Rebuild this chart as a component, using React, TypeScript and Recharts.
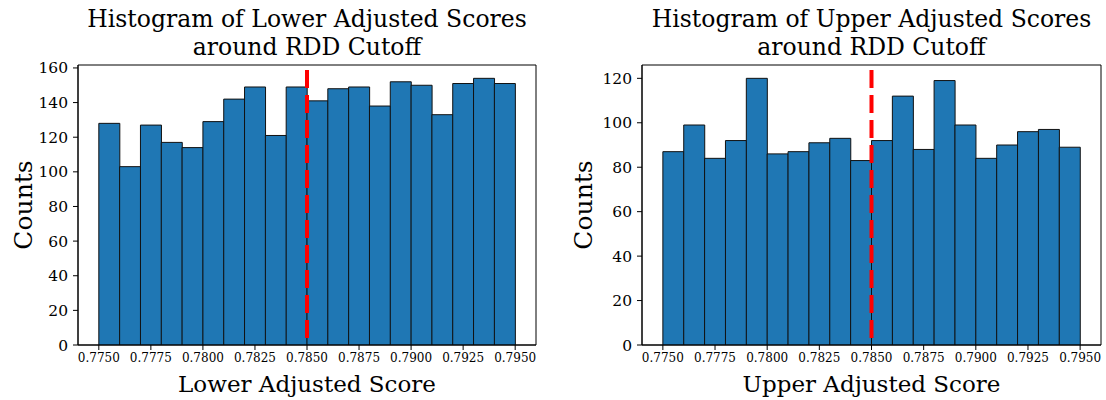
import React from 'react';
import { Bar, BarChart, XAxis, YAxis, ReferenceLine, ReferenceArea, Label } from 'recharts';

// bin centres of the 20 histogram bins (width 0.001)
const binCenters = [
  0.7755, 0.7765, 0.7775, 0.7785, 0.7795, 0.7805, 0.7815, 0.7825, 0.7835, 0.7845,
  0.7855, 0.7865, 0.7875, 0.7885, 0.7895, 0.7905, 0.7915, 0.7925, 0.7935, 0.7945,
];
const lowerCounts = [128, 103, 127, 117, 114, 129, 142, 149, 121, 149, 141, 148, 149, 138, 152, 150, 133, 151, 154, 151];
const upperCounts = [87, 99, 84, 92, 120, 86, 87, 91, 93, 83, 92, 112, 88, 119, 99, 84, 90, 96, 97, 89];
const xTicks = [0.775, 0.7775, 0.78, 0.7825, 0.785, 0.7875, 0.79, 0.7925, 0.795];
const lowerYTicks = [0, 20, 40, 60, 80, 100, 120, 140, 160];
const upperYTicks = [0, 20, 40, 60, 80, 100, 120];
const xDomain: [number, number] = [0.774, 0.796];
const cutoff = 0.785;

const FONT = '"DejaVu Serif", serif';

interface HistProps {
  counts: number[];
  yTicks: number[];
  title: string[];
  xLabel: string;
  left: number;
  yAxisWidth: number;
  rightMargin: number;
  countsX: number;
}

const Histogram: React.FC<HistProps> = ({ counts, yTicks, title, xLabel, left, yAxisWidth, rightMargin, countsX }) => {
  const data = binCenters.map((c, i) => ({ center: c, count: counts[i] }));
  const yMax = Math.max(...counts) * 1.05;
  const width = 553;
  const plotCenter = yAxisWidth + (width - yAxisWidth - rightMargin) / 2;

  return (
    <div style={{ position: 'absolute', left, top: 0, width, height: 400 }}>
      <div
        style={{
          position: 'absolute',
          left: plotCenter - 300,
          width: 600,
          top: 5,
          textAlign: 'center',
          fontFamily: FONT,
          fontSize: 23.5,
          lineHeight: '28px',
          color: '#000',
        }}
      >
        {title[0]}
        <br />
        {title[1]}
      </div>
      <BarChart
        width={width}
        height={400}
        data={data}
        margin={{ top: 65, right: rightMargin, bottom: 0, left: 0 }}
        barCategoryGap={0}
        barGap={0}
        style={{ fontFamily: FONT }}
      >
        <XAxis
          dataKey="center"
          type="number"
          domain={xDomain}
          ticks={xTicks}
          interval={0}
          height={55}
          tickSize={5}
          tickMargin={3}
          stroke="#000"
          tick={{ fill: '#000', fontSize: 12 }}
          tickFormatter={(v: number) => v.toFixed(4)}
          allowDataOverflow
        >
          <Label
            content={({ viewBox }: any) => (
              <text
                x={viewBox.x + viewBox.width / 2}
                y={viewBox.y + 47}
                textAnchor="middle"
                fontSize={23}
                fill="#000"
              >
                {xLabel}
              </text>
            )}
          />
        </XAxis>
        <YAxis
          type="number"
          domain={[0, yMax]}
          ticks={yTicks}
          interval={0}
          width={yAxisWidth}
          tickSize={5}
          tickMargin={5}
          stroke="#000"
          tick={{ fill: '#000', fontSize: 15.5 }}
          allowDataOverflow
        >
          <Label
            content={({ viewBox }: any) => (
              <text
                x={countsX}
                y={viewBox.y + viewBox.height / 2}
                textAnchor="middle"
                dominantBaseline="central"
                transform={`rotate(-90, ${countsX}, ${viewBox.y + viewBox.height / 2})`}
                fontSize={25}
                fill="#000"
              >
                Counts
              </text>
            )}
          />
        </YAxis>
        <Bar dataKey="count" fill="#1f77b4" stroke="#111" strokeWidth={1} isAnimationActive={false} />
        <ReferenceLine x={cutoff} stroke="#ff0000" strokeWidth={4} strokeDasharray="18 7" strokeDashoffset={-7} />
        <ReferenceArea x1={xDomain[0]} x2={xDomain[1]} y1={0} y2={yMax} fill="none" stroke="#000" strokeWidth={1} />
      </BarChart>
    </div>
  );
};

export default function App() {
  return (
    <div style={{ position: 'absolute', left: 0, top: 0, width: 1106, height: 400, background: '#fff' }}>
      <Histogram
        counts={lowerCounts}
        yTicks={lowerYTicks}
        title={['Histogram of Lower Adjusted Scores', 'around RDD Cutoff']}
        xLabel="Lower Adjusted Score"
        left={0}
        yAxisWidth={78}
        rightMargin={17}
        countsX={23}
      />
      <Histogram
        counts={upperCounts}
        yTicks={upperYTicks}
        title={['Histogram of Upper Adjusted Scores', 'around RDD Cutoff']}
        xLabel="Upper Adjusted Score"
        left={553}
        yAxisWidth={89}
        rightMargin={5}
        countsX={30}
      />
    </div>
  );
}
